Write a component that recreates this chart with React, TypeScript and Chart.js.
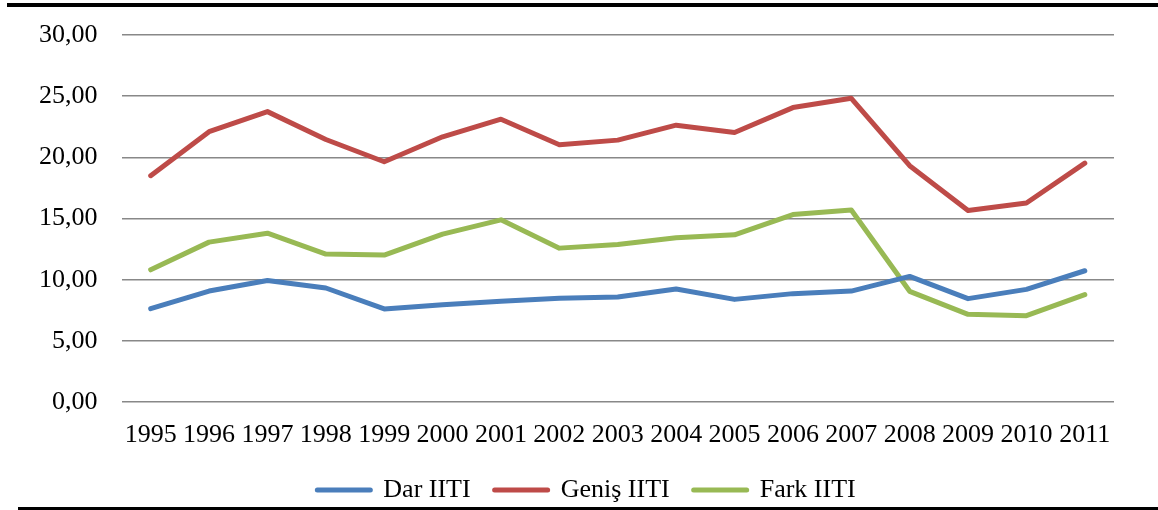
import React, { useEffect, useRef } from "react";
import { Chart, registerables } from "chart.js";

Chart.register(...registerables);

const years = ["1995","1996","1997","1998","1999","2000","2001","2002","2003","2004","2005","2006","2007","2008","2009","2010","2011"];
const darIITI = [7.63, 9.07, 9.94, 9.32, 7.61, 7.96, 8.23, 8.48, 8.58, 9.24, 8.39, 8.86, 9.07, 10.27, 8.45, 9.21, 10.73];
const genisIITI = [18.5, 22.1, 23.74, 21.46, 19.64, 21.68, 23.12, 21.03, 21.41, 22.63, 22.03, 24.07, 24.83, 19.32, 15.65, 16.27, 19.53];
const farkIITI = [10.81, 13.07, 13.8, 12.09, 12.01, 13.72, 14.89, 12.58, 12.88, 13.42, 13.67, 15.32, 15.7, 9.05, 7.17, 7.06, 8.78];
const seriesNames = ["Dar IITI", "Geniş IITI", "Fark IITI"];
const seriesColors = ["#4A7EBB", "#BE4B48", "#98B954"];

export default function App() {
  const ref = useRef<HTMLCanvasElement>(null);
  useEffect(() => {
    if (!ref.current) return;
    const family = "'Liberation Serif', 'Times New Roman', serif";
    const font = { family, size: 26 };
    const chart = new Chart(ref.current, {
      type: "line",
      data: {
        labels: years,
        datasets: [darIITI, genisIITI, farkIITI].map((d, i) => ({
          label: seriesNames[i],
          data: d,
          yAxisID: "y",
          borderColor: seriesColors[i],
          backgroundColor: seriesColors[i],
          borderWidth: 5,
          pointRadius: 0,
          tension: 0,
          borderCapStyle: "round" as const,
          borderJoinStyle: "round" as const,
        })),
      },
      options: {
        animation: false,
        responsive: false,
        maintainAspectRatio: false,
        layout: { padding: { left: 15, right: 0, top: 10, bottom: 0 } },
        plugins: {
          tooltip: { enabled: false },
          legend: {
            position: "bottom",
            maxHeight: 57,
            labels: {
              color: "#000",
              font,
              usePointStyle: true,
              pointStyleWidth: 53,
              boxHeight: 5,
              padding: 24,
              generateLabels: (c: any) =>
                c.data.datasets.map((ds: any, i: number) => ({
                  text: ds.label,
                  fillStyle: ds.borderColor,
                  strokeStyle: ds.borderColor,
                  lineWidth: 5,
                  lineCap: "round",
                  pointStyle: "line",
                  hidden: false,
                  datasetIndex: i,
                  fontColor: "#000",
                })),
            },
          },
        },
        scales: {
          x: {
            offset: true,
            grid: { display: false, drawTicks: false },
            border: { display: false },
            ticks: { color: "#000", font, padding: 17.4, maxRotation: 0, autoSkip: false },
            afterFit: (s: any) => { s.height = 51; },
          },
          y: {
            min: 0,
            max: 30,
            grid: { color: "#888888", lineWidth: 1.6, drawTicks: false },
            border: { display: false },
            ticks: {
              color: "#000",
              font: { family, size: 26, lineHeight: 0.85 },
              padding: 24,
              stepSize: 5,
              callback: (v: any) => Number(v).toFixed(2).replace(".", ","),
            },
          },
          yRight: {
            position: "right",
            min: 0,
            max: 30,
            grid: { display: false, drawTicks: false },
            border: { display: false },
            ticks: { display: false },
            afterFit: (s: any) => { s.width = 44; },
          },
        },
      },
    } as any);
    return () => chart.destroy();
  }, []);
  return (
    <div style={{ position: "fixed", left: 0, top: 0, width: 1158, height: 510, background: "#fff" }}>
      <canvas ref={ref} width={1158} height={510} style={{ display: "block" }} />
      <div style={{ position: "absolute", left: 7, top: 3, right: 0, height: 4, background: "#000" }} />
      <div style={{ position: "absolute", left: 18, top: 507, right: 0, height: 3, background: "#000" }} />
    </div>
  );
}
